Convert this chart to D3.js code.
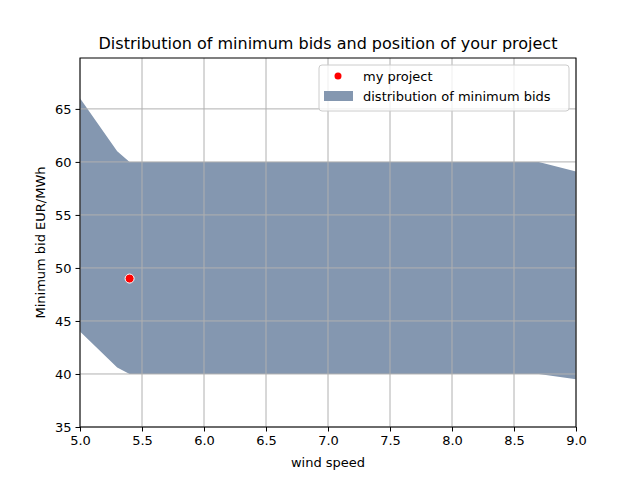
<!DOCTYPE html>
<html><head><meta charset="utf-8">
<script src="https://cdn.jsdelivr.net/npm/d3@7"></script>
<style>body{margin:0;background:#fff}text{font-family:"DejaVu Sans",sans-serif}</style>
</head><body><svg id="c" width="640" height="480"></svg>
<script>
const windSpeed = [5.0, 5.3, 5.4, 8.7, 9.0];
const upperBid = [66.0, 61.0, 60.0, 60.0, 59.1];
const lowerBid = [44.0, 40.6, 40.0, 40.0, 39.5];
const project = [{x: 5.4, y: 49}];
const xTicks = [5.0,5.5,6.0,6.5,7.0,7.5,8.0,8.5,9.0];
const yTicks = [35,40,45,50,55,60,65];

const svg = d3.select("#c");
const L=80,R=576,T=58,B=427;
const x = d3.scaleLinear().domain([5,9]).range([L,R]);
const y = d3.scaleLinear().domain([35,69.8]).range([B,T]);
const data = windSpeed.map((w,i)=>({x:w,u:upperBid[i],l:lowerBid[i]}));

svg.append("path").datum(data)
  .attr("d", d3.area().x(d=>x(d.x)).y0(d=>y(d.l)).y1(d=>y(d.u)))
  .attr("fill","#8497b0");

const g = svg.append("g");
xTicks.forEach(t=>g.append("line").attr("x1",x(t)).attr("x2",x(t)).attr("y1",T).attr("y2",B).attr("stroke","#b0b0b0").attr("stroke-width",1));
yTicks.forEach(t=>g.append("line").attr("x1",L).attr("x2",R).attr("y1",y(t)).attr("y2",y(t)).attr("stroke","#b0b0b0").attr("stroke-width",1));

svg.selectAll("circle.p").data(project).join("circle")
  .attr("cx",d=>x(d.x)).attr("cy",d=>y(d.y)).attr("r",4.5)
  .attr("fill","red").attr("stroke","white").attr("stroke-width",1);

svg.append("g").attr("transform",`translate(0,${B})`)
  .call(d3.axisBottom(x).tickValues(xTicks).tickFormat(d3.format(".1f")).tickSize(4.5).tickPadding(4))
  .call(a=>a.selectAll("text").attr("font-size",13).attr("fill","#000"));
svg.append("g").attr("transform",`translate(${L},0)`)
  .call(d3.axisLeft(y).tickValues(yTicks).tickSize(4.5).tickPadding(4))
  .call(a=>a.selectAll("text").attr("font-size",13).attr("fill","#000"));
svg.selectAll(".domain").remove();
svg.append("rect").attr("x",L).attr("y",T).attr("width",R-L).attr("height",B-T)
  .attr("fill","none").attr("stroke","#000").attr("stroke-width",1);

svg.append("text").attr("x",(L+R)/2).attr("y",49).attr("text-anchor","middle").attr("font-size",16).text("Distribution of minimum bids and position of your project");
svg.append("text").attr("x",(L+R)/2).attr("y",467).attr("text-anchor","middle").attr("font-size",13).text("wind speed");
svg.append("text").attr("transform",`translate(45,${(T+B)/2}) rotate(-90)`).attr("text-anchor","middle").attr("font-size",13).text("Minimum bid EUR/MWh");

const lg = svg.append("g");
lg.append("rect").attr("x",319).attr("y",65).attr("width",250).attr("height",46).attr("rx",3)
  .attr("fill","white").attr("fill-opacity",0.8).attr("stroke","#ccc");
lg.append("circle").attr("cx",338).attr("cy",76).attr("r",3.5).attr("fill","red");
lg.append("text").attr("x",363).attr("y",81).attr("font-size",13).text("my project");
lg.append("rect").attr("x",324).attr("y",91).attr("width",29).attr("height",10).attr("fill","#8497b0");
lg.append("text").attr("x",363).attr("y",101).attr("font-size",13).text("distribution of minimum bids");
</script></body></html>
